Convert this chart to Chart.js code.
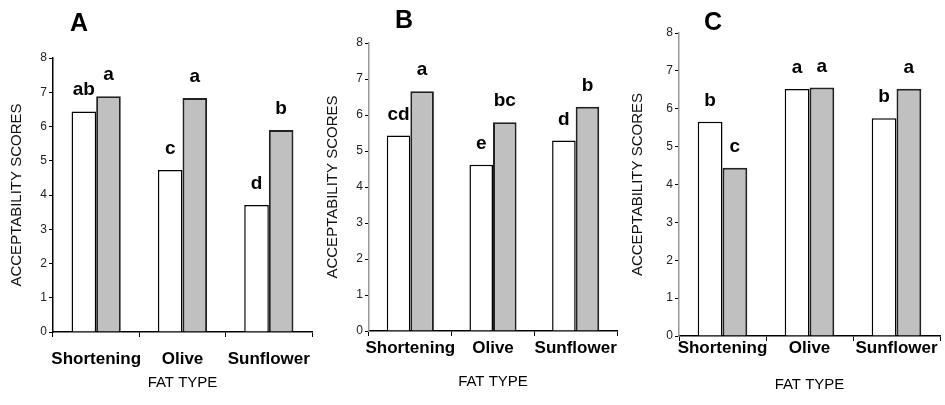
<!DOCTYPE html>
<html>
<head>
<meta charset="utf-8">
<script src="https://cdn.jsdelivr.net/npm/chart.js@4/dist/chart.umd.min.js"></script>
<style>
  html, body { margin: 0; padding: 0; background: #fff; }
  #wrap { position: relative; width: 945px; height: 405px; overflow: hidden; }
  .panel { position: absolute; top: 0; height: 405px; }
</style>
</head>
<body>
<div id="wrap">
  <div class="panel" style="left:0;width:315px"><canvas id="chartA" width="315" height="405"></canvas></div>
  <div class="panel" style="left:315px;width:310px"><canvas id="chartB" width="310" height="405"></canvas></div>
  <div class="panel" style="left:625px;width:320px"><canvas id="chartC" width="320" height="405"></canvas></div>
</div>
<script>
// datos compartidos
const fatTypes = ['Shortening', 'Olive', 'Sunflower'];
const yTicks = [0, 1, 2, 3, 4, 5, 6, 7, 8];

// panel A
const scoresA_white = [6.44, 4.73, 3.71];
const scoresA_gray = [6.88, 6.83, 5.90];
const lettersA_white = ['ab', 'c', 'd'];
const lettersA_gray = ['a', 'a', 'b'];

// panel B
const scoresB_white = [5.43, 4.62, 5.29];
const scoresB_gray = [6.66, 5.80, 6.23];
const lettersB_white = ['cd', 'e', 'd'];
const lettersB_gray = ['a', 'bc', 'b'];

// panel C
const scoresC_white = [5.66, 6.52, 5.75];
const scoresC_gray = [4.44, 6.56, 6.53];
const lettersC_white = ['b', 'a', 'b'];
const lettersC_gray = ['c', 'a', 'a'];

const FONT = "'Liberation Sans', Arial, sans-serif";

// letras de significancia sobre cada barra + letra del panel
const letterPlugin = {
    id: 'letterPlugin',
    afterDatasetsDraw(chart, args, opts) {
        const ctx = chart.ctx;
        ctx.save();
        ctx.fillStyle = '#000';
        ctx.textAlign = 'center';
        ctx.textBaseline = 'alphabetic';
        ctx.font = 'bold 19px ' + FONT;
        chart.data.datasets.forEach((ds, i) => {
            const meta = chart.getDatasetMeta(i);
            meta.data.forEach((bar, j) => {
                ctx.fillText(ds.letters[j], bar.x, bar.y - 16);
            });
        });
        // letra del panel
        const area = chart.chartArea;
        ctx.font = 'bold 25px ' + FONT;
        ctx.textBaseline = 'middle';
        ctx.fillText(opts.panel, area.left + opts.dx, area.top + opts.dy);
        ctx.restore();
    }
};

function createPanel(canvasId, white, gray, lettersWhite, lettersGray, layout) {
    const ctx = document.getElementById(canvasId).getContext('2d');
    return new Chart(ctx, {
        type: 'bar',
        data: {
            labels: fatTypes,
            datasets: [{
                data: white,
                letters: lettersWhite,
                backgroundColor: '#ffffff',
                borderColor: '#000000',
                borderWidth: 1.5,
                categoryPercentage: 0.57,
                barPercentage: 1
            }, {
                data: gray,
                letters: lettersGray,
                backgroundColor: '#c0c0c0',
                borderColor: '#222222',
                borderWidth: 2,
                categoryPercentage: 0.57,
                barPercentage: 1
            }]
        },
        options: {
            responsive: false,
            animation: false,
            layout: { padding: { top: layout.top, right: layout.right, left: 0, bottom: 0 } },
            plugins: {
                legend: { display: false },
                tooltip: { enabled: false },
                letterPlugin: { panel: layout.panel, dx: layout.panelDx, dy: layout.panelDy }
            },
            scales: {
                x: {
                    grid: { drawOnChartArea: false, color: '#000', tickLength: 5, offset: true },
                    border: { color: '#000', width: 1.5 },
                    ticks: {
                        color: '#000', padding: layout.xLabelPad,
                        maxRotation: 0, minRotation: 0, autoSkip: false,
                        font: { family: FONT, size: 17, weight: 'bold' }
                    },
                    title: {
                        display: true, text: 'FAT TYPE', color: '#000',
                        font: { family: FONT, size: 15 },
                        padding: { top: 0, bottom: layout.xTitlePad }
                    },
                    afterFit(scale) {
                        scale.height = layout.xHeight;
                        // las etiquetas largas no deben encoger el área del gráfico
                        scale.paddingLeft = 0;
                        scale.paddingRight = 0;
                    }
                },
                y: {
                    min: 0,
                    max: 8,
                    afterBuildTicks(scale) { scale.ticks = yTicks.map(v => ({ value: v })); },
                    grid: { drawOnChartArea: false, color: '#000', tickLength: 4 },
                    border: { color: layout.yAxisColor, width: 1.5 },
                    ticks: { color: '#222', padding: 2, font: { family: FONT, size: 12 } },
                    title: {
                        display: true, text: 'ACCEPTABILITY SCORES', color: '#111',
                        font: { family: FONT, size: 15 },
                        padding: { top: layout.yTitlePad, bottom: 0 }
                    },
                    afterFit(scale) {
                        scale.width = layout.yWidth;
                        scale.paddingTop = 0;
                        scale.paddingBottom = 0;
                    }
                }
            }
        },
        plugins: [letterPlugin]
    });
}

createPanel('chartA', scoresA_white, scoresA_gray, lettersA_white, lettersA_gray, {
    panel: 'A', panelDx: 26, panelDy: -34,
    top: 58, right: 3, yWidth: 53, xHeight: 73,
    yTitlePad: 8, xLabelPad: 12, xTitlePad: 13, yAxisColor: '#000'
});

createPanel('chartB', scoresB_white, scoresB_gray, lettersB_white, lettersB_gray, {
    panel: 'B', panelDx: 35, panelDy: -22,
    top: 43, right: 8, yWidth: 54, xHeight: 74,
    yTitlePad: 9, xLabelPad: 2, xTitlePad: 14, yAxisColor: '#999'
});

createPanel('chartC', scoresC_white, scoresC_gray, lettersC_white, lettersC_gray, {
    panel: 'C', panelDx: 34, panelDy: -10,
    top: 33, right: 5, yWidth: 54, xHeight: 69,
    yTitlePad: 4, xLabelPad: -3, xTitlePad: 11, yAxisColor: '#999'
});
</script>
</body>
</html>
